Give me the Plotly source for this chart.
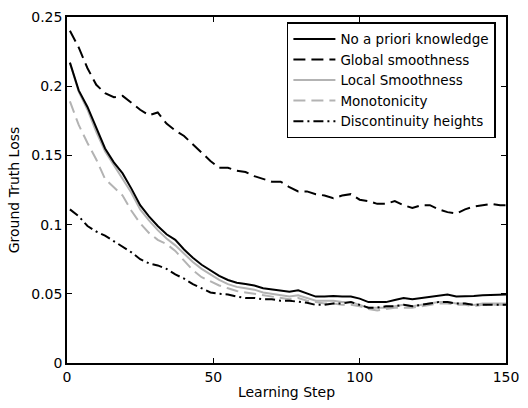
import plotly.graph_objects as go

steps = [1, 4, 7, 10, 13, 16, 19, 22, 25, 28, 31, 34, 37, 40, 43, 46, 49, 52, 55, 58,
         61, 64, 67, 70, 73, 76, 79, 82, 85, 88, 91, 94, 97, 100, 103, 106, 109, 112, 115, 118,
         121, 124, 127, 130, 133, 136, 139, 142, 145, 148, 150]

no_prior = [0.217, 0.197, 0.185, 0.170, 0.155, 0.145, 0.137, 0.126, 0.114, 0.106, 0.099, 0.093, 0.089, 0.082, 0.076, 0.071, 0.067, 0.063, 0.060, 0.058,
            0.057, 0.056, 0.054, 0.053, 0.052, 0.0515, 0.0525, 0.050, 0.048, 0.048, 0.0485, 0.048, 0.048, 0.0465, 0.044, 0.044, 0.044, 0.0455, 0.047, 0.046,
            0.047, 0.048, 0.049, 0.0495, 0.048, 0.048, 0.0485, 0.049, 0.049, 0.049, 0.0495]

global_smooth = [0.240, 0.228, 0.213, 0.201, 0.195, 0.192, 0.193, 0.188, 0.183, 0.179, 0.181, 0.173, 0.168, 0.164, 0.158, 0.152, 0.146, 0.141, 0.141, 0.139,
                 0.138, 0.135, 0.133, 0.131, 0.131, 0.127, 0.124, 0.124, 0.122, 0.121, 0.119, 0.121, 0.122, 0.118, 0.117, 0.115, 0.115, 0.117, 0.114, 0.112,
                 0.114, 0.114, 0.111, 0.109, 0.108, 0.111, 0.113, 0.114, 0.115, 0.114, 0.114]

local_smooth = [0.217, 0.196, 0.183, 0.167, 0.153, 0.143, 0.134, 0.123, 0.111, 0.103, 0.096, 0.090, 0.085, 0.079, 0.073, 0.068, 0.064, 0.060, 0.057, 0.055,
                0.054, 0.053, 0.051, 0.050, 0.049, 0.048, 0.049, 0.047, 0.045, 0.045, 0.045, 0.044, 0.044, 0.042, 0.040, 0.040, 0.040, 0.041, 0.042, 0.041,
                0.042, 0.043, 0.044, 0.044, 0.043, 0.043, 0.042, 0.043, 0.043, 0.043, 0.043]

monotonicity = [0.189, 0.172, 0.159, 0.147, 0.133, 0.127, 0.121, 0.110, 0.101, 0.094, 0.089, 0.086, 0.081, 0.074, 0.067, 0.062, 0.059, 0.056, 0.054, 0.052,
                0.051, 0.050, 0.049, 0.048, 0.047, 0.046, 0.047, 0.045, 0.044, 0.043, 0.043, 0.042, 0.042, 0.041, 0.039, 0.038, 0.039, 0.040, 0.040, 0.040,
                0.041, 0.042, 0.043, 0.043, 0.042, 0.042, 0.041, 0.042, 0.042, 0.042, 0.042]

disc_heights = [0.111, 0.106, 0.099, 0.095, 0.092, 0.088, 0.084, 0.080, 0.075, 0.072, 0.0705, 0.068, 0.064, 0.061, 0.057, 0.054, 0.051, 0.050, 0.0495, 0.048,
                0.047, 0.047, 0.046, 0.046, 0.045, 0.045, 0.0445, 0.0435, 0.042, 0.042, 0.043, 0.043, 0.044, 0.042, 0.040, 0.040, 0.041, 0.041, 0.042, 0.041,
                0.042, 0.043, 0.044, 0.044, 0.043, 0.043, 0.042, 0.042, 0.042, 0.042, 0.042]

x_ticks = [0, 50, 100, 150]
y_ticks = [0, 0.05, 0.1, 0.15, 0.2, 0.25]
y_tick_labels = ["0", "0.05", "0.1", "0.15", "0.2", "0.25"]

GRAY = "#b3b3b3"
series = [
    ("No a priori knowledge", no_prior, "black", "solid"),
    ("Global smoothness", global_smooth, "black", "12px,6px"),
    ("Local Smoothness", local_smooth, GRAY, "solid"),
    ("Monotonicity", monotonicity, GRAY, "12px,6px"),
    ("Discontinuity heights", disc_heights, "black", "10px,4px,2px,4px"),
]

fig = go.Figure()
draw_order = [2, 3, 4, 1, 0]
for i in draw_order:
    name, vals, color, dash = series[i]
    fig.add_trace(go.Scatter(x=steps, y=vals, mode="lines", name=name,
                             line=dict(color=color, width=2, dash=dash),
                             legendrank=i + 1))

FAMILY = "DejaVu Sans, Liberation Sans, Arial, sans-serif"
font = dict(family=FAMILY, size=14, color="black")
legend_font = dict(family=FAMILY, size=13.5, color="black")
axis_common = dict(showline=True, linecolor="black", linewidth=1.5, mirror="ticks",
                   ticks="inside", ticklen=5, tickcolor="black", tickwidth=1,
                   showgrid=False, zeroline=False, tickfont=font)

fig.update_layout(
    width=528, height=408,
    margin=dict(l=67, r=14, t=9, b=45),
    paper_bgcolor="white", plot_bgcolor="white",
    font=font,
    xaxis=dict(range=[0, 150], tickvals=x_ticks, title=dict(text="Learning Step", font=font, standoff=4), **axis_common),
    yaxis=dict(range=[0, 0.25], tickvals=y_ticks, ticktext=y_tick_labels,
               title=dict(text="Ground Truth Loss", font=font, standoff=8), **axis_common),
    legend=dict(x=0.977, y=0.985, xanchor="right", yanchor="top",
                bgcolor="white", bordercolor="black", borderwidth=1.5,
                font=legend_font, itemwidth=42, tracegroupgap=0),
    showlegend=True,
)

fig.write_html("out.html")
